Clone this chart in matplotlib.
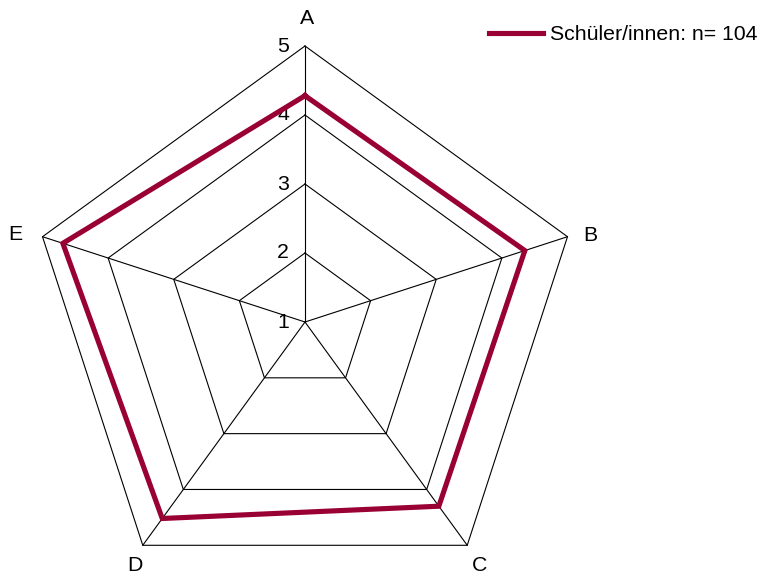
import numpy as np
import matplotlib.pyplot as plt
import matplotlib.transforms as mtransforms

plt.rcParams['font.family'] = ['Liberation Sans', 'DejaVu Sans']

# Daten
kategorien = ['A', 'B', 'C', 'D', 'E']
werte = [4.28, 4.35, 4.3, 4.52, 4.69]
stufen = [1, 2, 3, 4, 5]
serie = 'Schüler/innen: n= 104'
farbe = '#990033'

# Versatz der Achsenbeschriftungen zur Spitze (Pixel, wie in Excel)
beschr_versatz = {'A': (2, 28), 'B': (23, 1), 'C': (12, -20), 'D': (-8, -20), 'E': (-27, 2)}

fig = plt.figure(figsize=(7.69, 5.75), dpi=100)
# Mittelpunkt ca. (305, 322) px, Radius 276 px
ax = fig.add_axes([29/769, (575 - 322 - 276)/575, 552/769, 552/575], projection='polar')
ax.set_theta_offset(np.pi/2)
ax.set_theta_direction(-1)
ax.set_ylim(1, 5)
ax.axis('off')

winkel = np.linspace(0, 2*np.pi, len(kategorien), endpoint=False)
winkel_zu = np.append(winkel, winkel[0])

# Gitternetz (Fünfecke + Speichen)
for s in stufen[1:]:
    ax.plot(winkel_zu, [s]*len(winkel_zu), color='black', lw=0.8, clip_on=False, zorder=1)
for w in winkel:
    ax.plot([w, w], [1, 5], color='black', lw=0.8, clip_on=False, zorder=1)

# Datenreihe
ax.plot(winkel_zu, werte + werte[:1], color=farbe, lw=3.7, clip_on=False, zorder=3,
        label=serie, solid_joinstyle='miter')

fs = 15.3

# Achsenbeschriftung
for w, k in zip(winkel, kategorien):
    dx, dy = beschr_versatz[k]
    tr = mtransforms.offset_copy(ax.transData, fig=fig, x=dx, y=dy, units='dots')
    ax.text(w, 5, k, transform=tr, ha='center', va='center', fontsize=fs)

# Skalenwerte links der A-Achse
versatz = mtransforms.offset_copy(ax.transData, fig=fig, x=-22, y=0, units='dots')
for s in stufen:
    ax.text(0, s, str(s), transform=versatz, ha='center', va='center', fontsize=fs, zorder=2)

fig.legend(loc='center left', bbox_to_anchor=(489/769, 1 - 35/575), frameon=False,
           fontsize=fs, handlelength=2.54, handletextpad=0.33, borderpad=0, borderaxespad=0)

fig.savefig('out.png', dpi=100)
